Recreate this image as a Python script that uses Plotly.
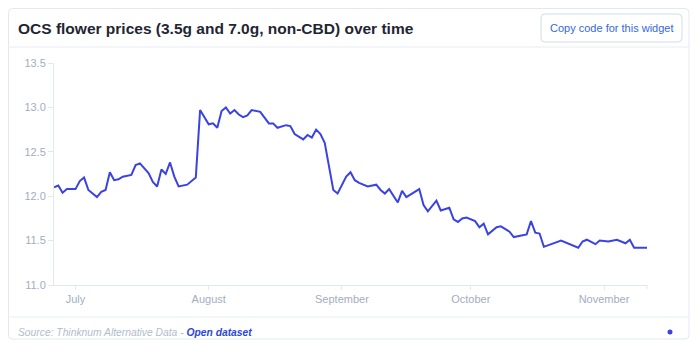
import plotly.graph_objects as go

dates = [
    "2019-06-26", "2019-06-27", "2019-06-28", "2019-06-29", "2019-07-01", "2019-07-02",
    "2019-07-03", "2019-07-04", "2019-07-06", "2019-07-07", "2019-07-08", "2019-07-09",
    "2019-07-10", "2019-07-11", "2019-07-12", "2019-07-14", "2019-07-15", "2019-07-16",
    "2019-07-18", "2019-07-19", "2019-07-20", "2019-07-21", "2019-07-22", "2019-07-23",
    "2019-07-24", "2019-07-25", "2019-07-27", "2019-07-29", "2019-07-30", "2019-08-01",
    "2019-08-02", "2019-08-03", "2019-08-04", "2019-08-05", "2019-08-06", "2019-08-07",
    "2019-08-08", "2019-08-09", "2019-08-10", "2019-08-11", "2019-08-13", "2019-08-15",
    "2019-08-16", "2019-08-17", "2019-08-19", "2019-08-20", "2019-08-21", "2019-08-23",
    "2019-08-24", "2019-08-25", "2019-08-26", "2019-08-27", "2019-08-28", "2019-08-30",
    "2019-08-31", "2019-09-02", "2019-09-03", "2019-09-04", "2019-09-05", "2019-09-07",
    "2019-09-09", "2019-09-10", "2019-09-11", "2019-09-12", "2019-09-14", "2019-09-15",
    "2019-09-16", "2019-09-19", "2019-09-20", "2019-09-21", "2019-09-23", "2019-09-24",
    "2019-09-26", "2019-09-27", "2019-09-28", "2019-09-29", "2019-09-30", "2019-10-02",
    "2019-10-03", "2019-10-04", "2019-10-05", "2019-10-07", "2019-10-08", "2019-10-10",
    "2019-10-11", "2019-10-14", "2019-10-15", "2019-10-16", "2019-10-17", "2019-10-18",
    "2019-10-22", "2019-10-26", "2019-10-27", "2019-10-28", "2019-10-30", "2019-10-31",
    "2019-11-02", "2019-11-04", "2019-11-06", "2019-11-07", "2019-11-08", "2019-11-11",
]
prices = [
    12.10, 12.12, 12.04, 12.08, 12.08, 12.17,
    12.21, 12.07, 11.99, 12.05, 12.07, 12.27,
    12.18, 12.19, 12.22, 12.24, 12.35, 12.37,
    12.26, 12.16, 12.11, 12.30, 12.25, 12.38,
    12.22, 12.11, 12.13, 12.21, 12.97, 12.81,
    12.82, 12.77, 12.96, 13.00, 12.93, 12.97,
    12.92, 12.89, 12.91, 12.97, 12.95, 12.82,
    12.82, 12.77, 12.80, 12.79, 12.70, 12.64,
    12.69, 12.66, 12.75, 12.70, 12.60, 12.07,
    12.03, 12.22, 12.27, 12.18, 12.15, 12.11,
    12.13, 12.07, 12.03, 12.08, 11.93, 12.06,
    11.99, 12.08, 11.90, 11.83, 11.95, 11.84,
    11.87, 11.74, 11.71, 11.75, 11.76, 11.72,
    11.65, 11.69, 11.57, 11.65, 11.66, 11.60,
    11.54, 11.57, 11.72, 11.59, 11.58, 11.43,
    11.50, 11.42, 11.49, 11.51, 11.46, 11.50,
    11.49, 11.51, 11.47, 11.51, 11.42, 11.42,
]
month_ticks = ["2019-07-01", "2019-08-01", "2019-09-01", "2019-10-01", "2019-11-01"]
month_labels = ["July", "August", "September", "October", "November"]
y_ticks = [11.0, 11.5, 12.0, 12.5, 13.0, 13.5]

# page has an 8px body margin: figure is drawn from page pixel (8, 8)
OFF = 8
W, H = 700 - OFF, 356 - OFF
L, R, T, B = 54, 647, 63, 285  # plot area in page pixels


def px(x):
    return (x - L) / (R - L)


def py(y):
    return (B - y) / (B - T)


def rrect(x0, y0, x1, y1, r):
    rx = r / (R - L)
    ry = r / (B - T)
    a, b, c, d = px(x0), py(y0), px(x1), py(y1)
    return (f"M {a+rx},{b} L {c-rx},{b} Q {c},{b} {c},{b-ry} "
            f"L {c},{d+ry} Q {c},{d} {c-rx},{d} L {a+rx},{d} "
            f"Q {a},{d} {a},{d+ry} L {a},{b-ry} Q {a},{b} {a+rx},{b} Z")


FONT = "Liberation Sans, Arial, sans-serif"
AX = "#e3e8f0"
TICKFONT = "#a3adc0"

fig = go.Figure()
fig.add_trace(go.Scatter(
    x=dates, y=prices, mode="lines",
    line=dict(color="#3a43e2", width=2),
    hoverinfo="x+y", showlegend=False,
))

shapes = [
    dict(type="path", path=rrect(8.5, 8.5, 689, 339, 4), xref="paper", yref="paper",
         line=dict(color="#e2e8f0", width=1), fillcolor="rgba(0,0,0,0)", layer="below"),
    dict(type="line", xref="paper", yref="paper", x0=px(8), x1=px(689), y0=py(47), y1=py(47),
         line=dict(color="#e8edf3", width=1)),
    dict(type="line", xref="paper", yref="paper", x0=px(8), x1=px(689), y0=py(317), y1=py(317),
         line=dict(color="#e8edf3", width=1)),
    dict(type="path", path=rrect(541, 14, 682, 42, 4), xref="paper", yref="paper",
         line=dict(color="#d5dbe5", width=1), fillcolor="white"),
    dict(type="line", xref="paper", yref="paper", x0=1, x1=1, y0=0, y1=py(289),
         line=dict(color=AX, width=1)),
    dict(type="circle", xref="paper", yref="paper", x0=px(667.5), x1=px(672.5),
         y0=py(329.5), y1=py(334.5), line=dict(width=0), fillcolor="#3a43e2"),
]

annotations = [
    dict(text="<b>OCS flower prices (3.5g and 7.0g, non-CBD) over time</b>",
         xref="paper", yref="paper", x=px(16), y=py(28), xanchor="left", yanchor="middle",
         showarrow=False, font=dict(family=FONT, size=15.5, color="#1f2633")),
    dict(text="Copy code for this widget", xref="paper", yref="paper", x=px(611.5), y=py(28),
         xanchor="center", yanchor="middle", showarrow=False,
         font=dict(family=FONT, size=11, color="#3468e0")),
    dict(text="<i>Source: Thinknum Alternative Data - </i>"
              "<span style='color:#2c47d6'><b><i>Open dataset</i></b></span>",
         xref="paper", yref="paper", x=px(16), y=py(332), xanchor="left", yanchor="middle",
         showarrow=False, font=dict(family=FONT, size=10.3, color="#b3bccb")),
]

fig.update_layout(
    width=W, height=H,
    margin=dict(l=L - OFF, r=700 - R, t=T - OFF, b=356 - B, pad=0),
    paper_bgcolor="white", plot_bgcolor="white",
    font=dict(family=FONT, size=11, color=TICKFONT),
    shapes=shapes, annotations=annotations,
    xaxis=dict(
        range=[dates[0], dates[-1]], tickvals=month_ticks, ticktext=month_labels,
        showgrid=False, zeroline=False, showline=True, linecolor=AX, linewidth=1,
        ticks="outside", ticklen=4, tickcolor=AX,
        tickfont=dict(family=FONT, size=11, color=TICKFONT),
    ),
    yaxis=dict(
        range=[11.0, 13.5], tickvals=y_ticks, tickformat=".1f",
        showgrid=False, zeroline=False, showline=True, linecolor=AX, linewidth=1,
        ticks="outside", ticklen=5, tickcolor=AX,
        tickfont=dict(family=FONT, size=11, color=TICKFONT),
    ),
)

fig.write_html("out.html")
